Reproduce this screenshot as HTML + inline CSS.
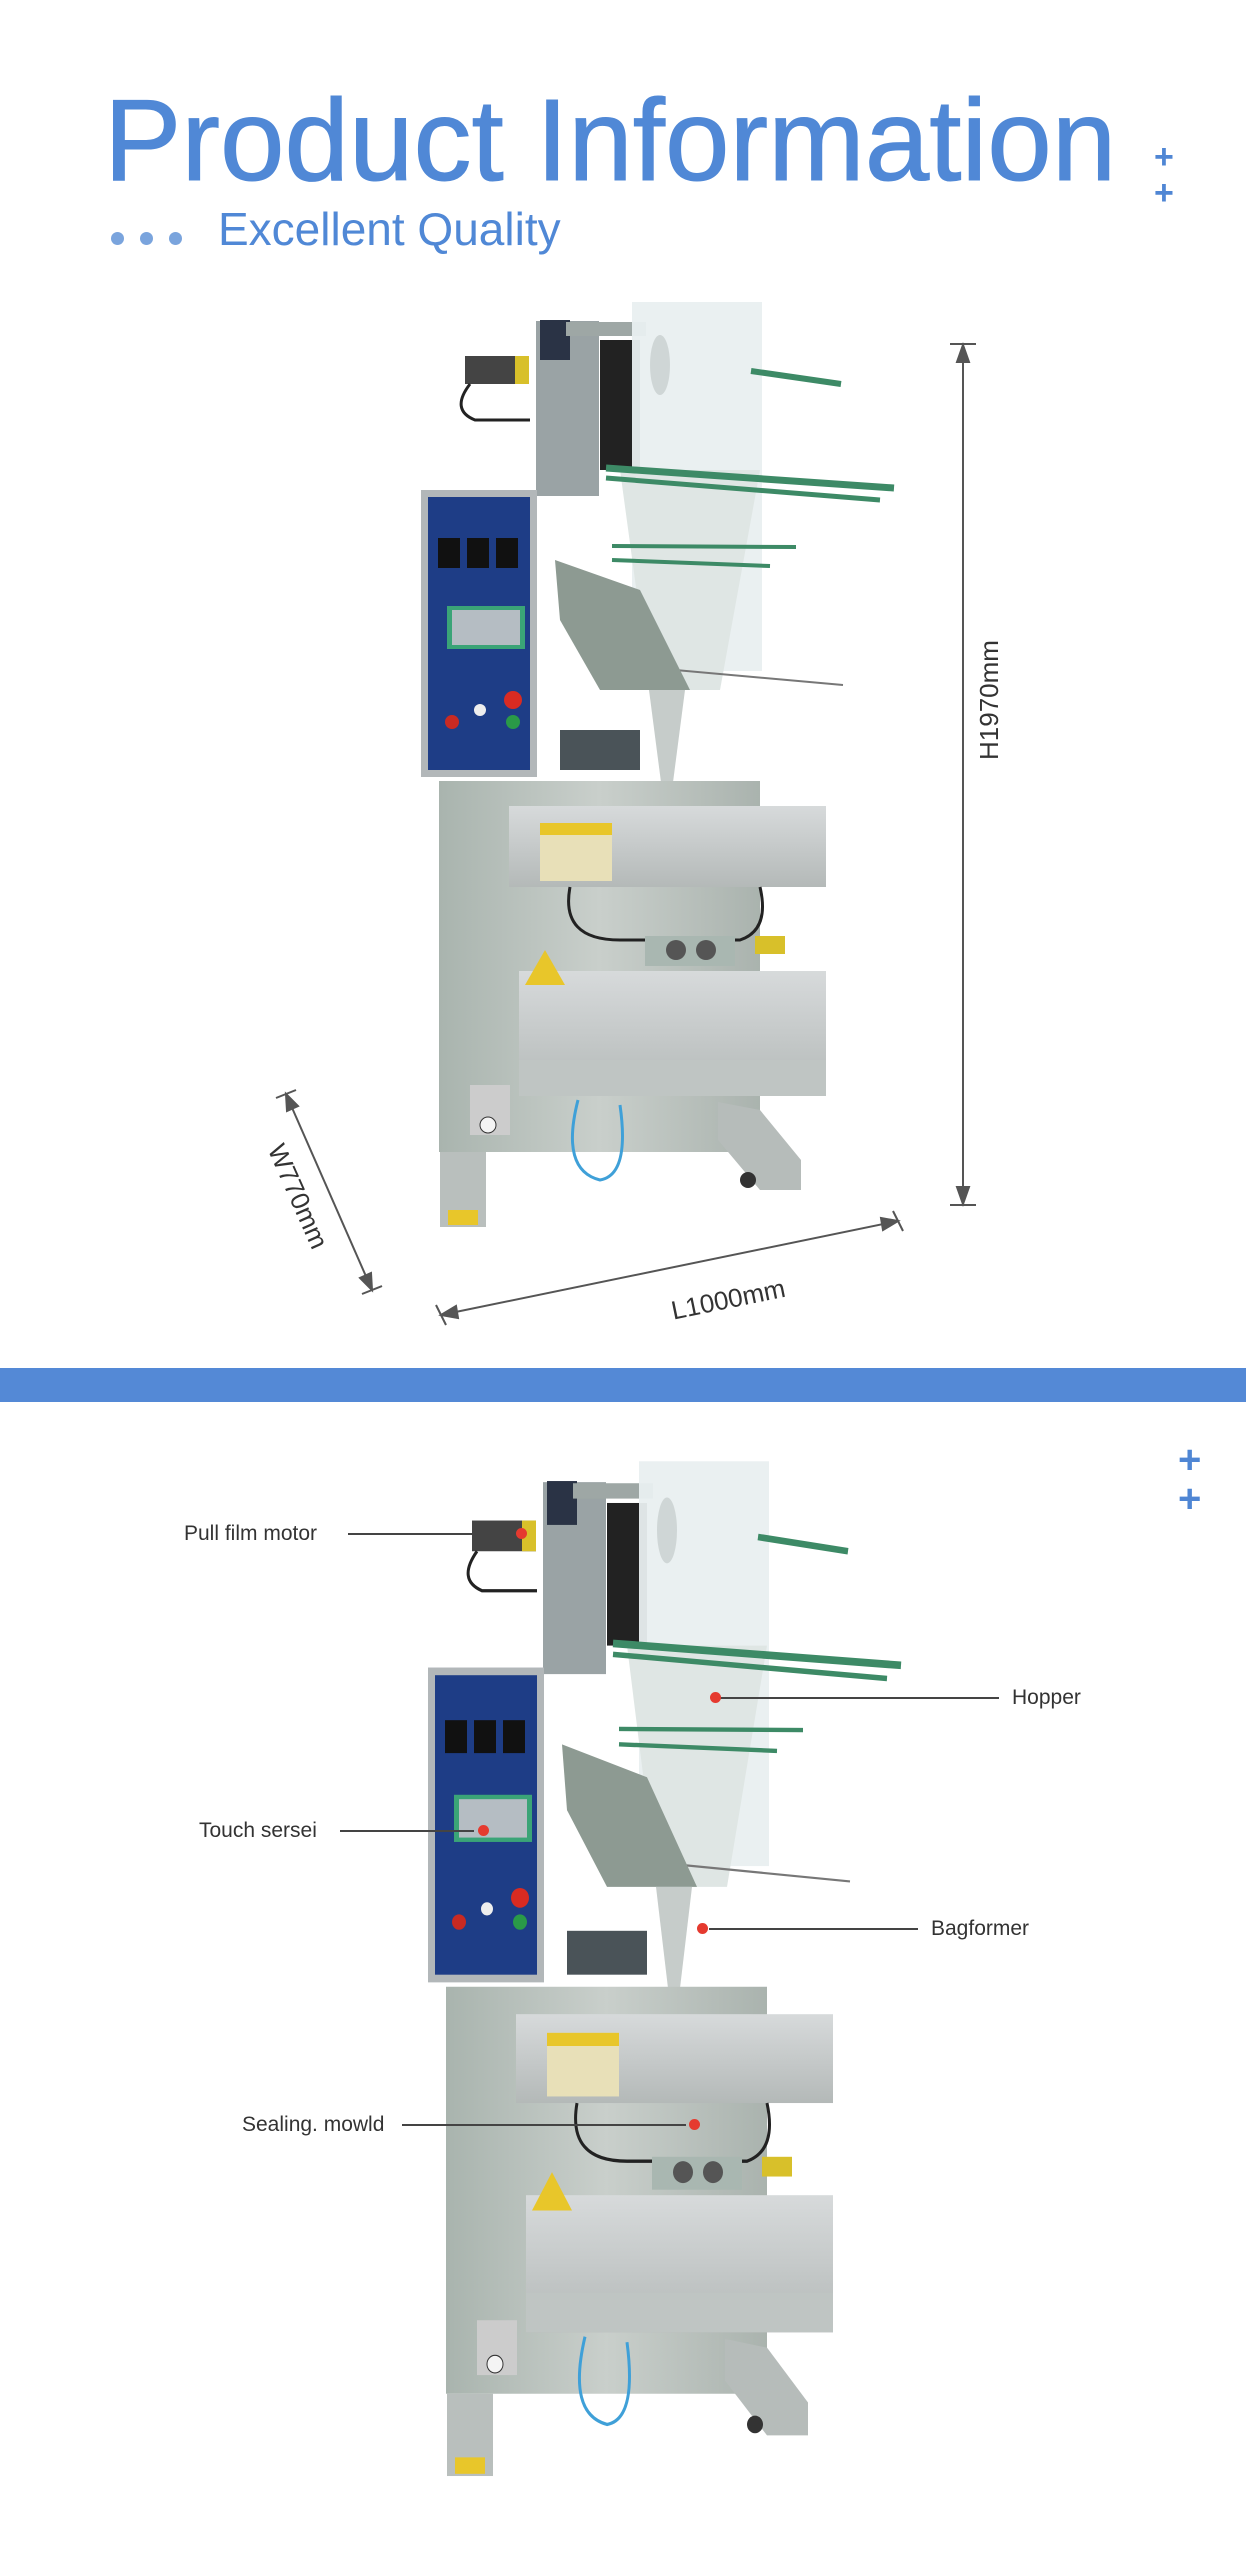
<!DOCTYPE html>
<html><head><meta charset="utf-8"><style>
html,body{margin:0;padding:0;background:#fff}
body{width:1246px;height:2560px;position:relative;overflow:hidden;font-family:"Liberation Sans",sans-serif}
.t{position:absolute;white-space:nowrap}
.lbl{position:absolute;font-size:21px;color:#333;white-space:nowrap;line-height:1}
.ln{position:absolute;height:2px;background:#444}
.dot{position:absolute;width:11px;height:11px;border-radius:50%;background:#e53a2f}
.plus{position:absolute;color:#4f86d4;font-weight:bold;font-size:40px;line-height:1}
</style></head><body>
<div class="t" style="left:104px;top:71px;font-size:116px;color:#5088d6;-webkit-text-stroke:1px #5088d6;line-height:1.2">Product Information</div>
<div style="position:absolute;left:111px;top:232px;width:13px;height:13px;border-radius:50%;background:#7aa4dd"></div>
<div style="position:absolute;left:140px;top:232px;width:13px;height:13px;border-radius:50%;background:#7aa4dd"></div>
<div style="position:absolute;left:169px;top:232px;width:13px;height:13px;border-radius:50%;background:#7aa4dd"></div>
<div class="t" style="left:218px;top:202px;font-size:46px;color:#5088d6;line-height:1.2">Excellent Quality</div>
<div class="plus" style="left:1154px;top:140px;font-size:34px">+</div>
<div class="plus" style="left:1154px;top:176px;font-size:34px">+</div>

<svg width="1246" height="2560" style="position:absolute;left:0;top:0">
<defs>
<linearGradient id="st" x1="0" x2="1"><stop offset="0" stop-color="#a9b4ae"/><stop offset=".5" stop-color="#c9cfcb"/><stop offset="1" stop-color="#aab3ae"/></linearGradient>
<linearGradient id="tb" x1="0" x2="0" y1="0" y2="1"><stop offset="0" stop-color="#d7dadb"/><stop offset="1" stop-color="#b4b9b8"/></linearGradient>
<g id="m">
<rect x="536" y="321" width="63" height="175" fill="#9aa3a5"/>
<rect x="600" y="340" width="40" height="130" fill="#222"/>
<rect x="465" y="356" width="64" height="28" fill="#444"/>
<rect x="515" y="356" width="14" height="28" fill="#d8c02a"/>
<path d="M470 384 Q450 410 475 420 L530 420" stroke="#222" stroke-width="3" fill="none"/>
<rect x="540" y="320" width="30" height="40" fill="#2a3345"/>
<rect x="566" y="322" width="80" height="14" fill="#9ea7a5"/>
<rect x="632" y="302" width="130" height="369" fill="#e9eff0" opacity=".95"/>
<ellipse cx="660" cy="365" rx="10" ry="30" fill="#cfd6d6"/>
<path d="M620 470 L760 470 L720 690 L650 690 Z" fill="#dfe6e4"/>
<line x1="751" y1="371" x2="841" y2="384" stroke="#3d8a66" stroke-width="6"/>
<line x1="606" y1="468" x2="894" y2="488" stroke="#3d8a66" stroke-width="7"/>
<line x1="606" y1="478" x2="880" y2="500" stroke="#3d8a66" stroke-width="5"/>
<line x1="612" y1="546" x2="796" y2="547" stroke="#3d8a66" stroke-width="4"/>
<line x1="612" y1="560" x2="770" y2="566" stroke="#3d8a66" stroke-width="4"/>
<line x1="586" y1="662" x2="843" y2="685" stroke="#777" stroke-width="2"/>
<path d="M555 560 L640 590 L690 690 L600 690 L560 620 Z" fill="#8d9a92"/>
<path d="M649 690 L685 690 L672 790 L662 790 Z" fill="#c6ccca"/>
<rect x="560" y="730" width="80" height="40" fill="#4a5358"/>
<rect x="421" y="490" width="116" height="287" fill="#b2b7b9"/>
<rect x="428" y="497" width="102" height="273" fill="#1e3d86"/>
<rect x="438" y="538" width="22" height="30" fill="#111"/><rect x="467" y="538" width="22" height="30" fill="#111"/><rect x="496" y="538" width="22" height="30" fill="#111"/>
<rect x="447" y="606" width="78" height="43" fill="#3aa477"/><rect x="452" y="610" width="68" height="35" fill="#b5bdc3"/>
<circle cx="513" cy="700" r="9" fill="#d92b22"/><circle cx="452" cy="722" r="7" fill="#c92a22"/><circle cx="513" cy="722" r="7" fill="#2a9a48"/><circle cx="480" cy="710" r="6" fill="#eee"/>
<rect x="439" y="781" width="321" height="371" fill="url(#st)"/>
<rect x="509" y="806" width="317" height="81" fill="url(#tb)"/>
<rect x="540" y="823" width="72" height="58" fill="#e8e0b8"/>
<rect x="540" y="823" width="72" height="12" fill="#e8c62a"/>
<path d="M570 887 Q560 940 620 940 L740 940 Q770 930 760 887" stroke="#222" stroke-width="3" fill="none"/>
<rect x="645" y="936" width="90" height="30" fill="#a9b7b1"/>
<circle cx="676" cy="950" r="10" fill="#555"/><circle cx="706" cy="950" r="10" fill="#555"/>
<rect x="755" y="936" width="30" height="18" fill="#d8c02a"/>
<rect x="758" y="995" width="8" height="20" fill="#d33"/>
<rect x="519" y="971" width="307" height="125" fill="url(#tb)"/>
<rect x="519" y="1060" width="307" height="36" fill="#bfc5c3"/>
<path d="M545 950 L565 985 L525 985 Z" fill="#e8c62a"/>
<rect x="470" y="1085" width="40" height="50" fill="#ccc"/>
<circle cx="488" cy="1125" r="8" fill="#f4f4f4" stroke="#333"/>
<path d="M578 1100 Q560 1170 600 1180 Q630 1175 620 1105" stroke="#3fa0d8" stroke-width="3" fill="none"/>
<rect x="440" y="1152" width="46" height="75" fill="#b9bfbd"/>
<rect x="448" y="1210" width="30" height="15" fill="#e8c62a"/>
<path d="M718 1102 L760 1110 L801 1160 L801 1190 L760 1190 L718 1140 Z" fill="#b6bcba"/>
<circle cx="748" cy="1180" r="8" fill="#333"/>
</g>
</defs>
<use href="#m"/>
<use href="#m" transform="translate(7,1130) scale(1,1.097)"/>
<g stroke="#555" stroke-width="2" fill="#555">
<line x1="963" y1="345" x2="963" y2="1204"/>
<line x1="950" y1="344" x2="976" y2="344"/><line x1="950" y1="1205" x2="976" y2="1205"/>
<path d="M963 345 L957 362 L969 362 Z"/><path d="M963 1204 L957 1187 L969 1187 Z"/>
<line x1="441" y1="1315" x2="898" y2="1221"/>
<line x1="436" y1="1305" x2="446" y2="1325"/><line x1="893" y1="1211" x2="903" y2="1231"/>
<path d="M441 1315 L456 1306 L458 1318 Z"/><path d="M898 1221 L883 1230 L881 1218 Z"/>
<line x1="286" y1="1094" x2="372" y2="1290"/>
<line x1="276" y1="1098" x2="296" y2="1090"/><line x1="362" y1="1294" x2="382" y2="1286"/>
<path d="M286 1094 L287 1111 L298 1106 Z"/><path d="M372 1290 L371 1273 L360 1278 Z"/>
</g>
<g font-family="Liberation Sans,sans-serif" font-size="26" fill="#333" text-anchor="middle">
<text transform="translate(998,700) rotate(-90)">H1970mm</text>
<text transform="translate(730,1308) rotate(-11.6)">L1000mm</text>
<text transform="translate(290,1200) rotate(66)">W770mm</text>
</g>
</svg>

<div style="position:absolute;left:0;top:1368px;width:1246px;height:34px;background:#5489d6"></div>
<div class="plus" style="left:1178px;top:1440px">+</div>
<div class="plus" style="left:1178px;top:1479px">+</div>

<div class="lbl" style="left:184px;top:1523px">Pull film motor</div>
<div class="ln" style="left:348px;top:1533px;width:170px"></div>
<div class="dot" style="left:516px;top:1528px"></div>

<div class="lbl" style="left:1012px;top:1687px">Hopper</div>
<div class="ln" style="left:718px;top:1697px;width:281px"></div>
<div class="dot" style="left:710px;top:1692px"></div>

<div class="lbl" style="left:199px;top:1820px">Touch sersei</div>
<div class="ln" style="left:340px;top:1830px;width:134px"></div>
<div class="dot" style="left:478px;top:1825px"></div>

<div class="lbl" style="left:931px;top:1918px">Bagformer</div>
<div class="ln" style="left:709px;top:1928px;width:209px"></div>
<div class="dot" style="left:697px;top:1923px"></div>

<div class="lbl" style="left:242px;top:2114px">Sealing. mowld</div>
<div class="ln" style="left:402px;top:2124px;width:284px"></div>
<div class="dot" style="left:689px;top:2119px"></div>
</body></html>
